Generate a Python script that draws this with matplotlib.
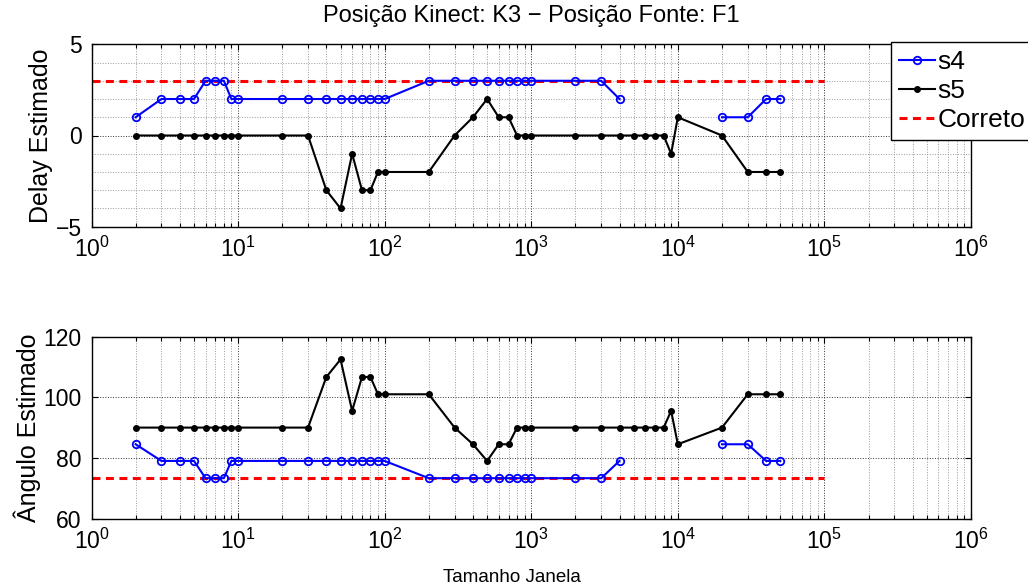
import numpy as np
import matplotlib
matplotlib.use("Agg")
import matplotlib.pyplot as plt
from matplotlib.ticker import MultipleLocator, LogLocator, NullFormatter, FixedLocator

plt.rcParams['font.family'] = ['Liberation Sans', 'DejaVu Sans']
plt.rcParams['mathtext.fontset'] = 'custom'
plt.rcParams['mathtext.rm'] = 'Liberation Sans'
plt.rcParams['mathtext.it'] = 'Liberation Sans'

nan = np.nan
window = [2, 3, 4, 5, 6, 7, 8, 9, 10, 20, 30, 40, 50, 60, 70, 80, 90, 100,
          200, 300, 400, 500, 600, 700, 800, 900, 1000, 2000, 3000, 4000,
          5000, 6000, 7000, 8000, 9000, 10000, 20000, 30000, 40000, 50000]

s4_delay = [1, 2, 2, 2, 3, 3, 3, 2, 2, 2, 2, 2, 2, 2, 2, 2, 2, 2,
            3, 3, 3, 3, 3, 3, 3, 3, 3, 3, 3, 2,
            nan, nan, nan, nan, nan, nan, 1, 1, 2, 2]
s5_delay = [0, 0, 0, 0, 0, 0, 0, 0, 0, 0, 0, -3, -4, -1, -3, -3, -2, -2,
            -2, 0, 1, 2, 1, 1, 0, 0, 0, 0, 0, 0,
            0, 0, 0, 0, -1, 1, 0, -2, -2, -2]

s4_angle = [84.5, 79.0, 79.0, 79.0, 73.3, 73.3, 73.3, 79.0, 79.0, 79.0, 79.0, 79.0,
            79.0, 79.0, 79.0, 79.0, 79.0, 79.0,
            73.3, 73.3, 73.3, 73.3, 73.3, 73.3, 73.3, 73.3, 73.3, 73.3, 73.3, 79.0,
            nan, nan, nan, nan, nan, nan, 84.5, 84.5, 79.0, 79.0]
s5_angle = [90, 90, 90, 90, 90, 90, 90, 90, 90, 90, 90, 106.7, 112.5, 95.5, 106.7, 106.7,
            101.0, 101.0,
            101.0, 90, 84.5, 79.0, 84.5, 84.5, 90, 90, 90, 90, 90, 90,
            90, 90, 90, 90, 95.5, 84.5, 90, 101.0, 101.0, 101.0]

correct_x = [1, 100000]
correct_delay = [3, 3]
correct_angle = [73.3, 73.3]

x_major = [1, 10, 100, 1000, 10000, 100000, 1000000]
title = "Posição Kinect: K3 − Posição Fonte: F1"
labels = ["s4", "s5", "Correto"]

W, H = 1028, 587
fig = plt.figure(figsize=(W / 100, H / 100), dpi=100)
left, right = 91.5 / W, 971 / W
ax1 = fig.add_axes([left, 1 - 226.7 / H, right - left, (226.7 - 44.3) / H])
ax2 = fig.add_axes([left, 1 - 518.5 / H, right - left, (518.5 - 336.7) / H])


def draw(ax, ys4, ys5, ycor):
    l1, = ax.plot(window, ys4, '-o', color='#0000ff', lw=1.5, ms=5.4,
                  mfc='none', mew=1.3, label=labels[0], zorder=4)
    l2, = ax.plot(window, ys5, '-o', color='black', lw=1.5, ms=4.0,
                  mfc='black', mec='black', label=labels[1], zorder=3)
    l3, = ax.plot(correct_x, ycor, '--', color='#ff0000', lw=2.2,
                  dashes=(2.6, 1.8), label=labels[2], zorder=2)
    ax.set_xscale('log')
    ax.set_xlim(1, 1e6)
    ax.xaxis.set_major_locator(FixedLocator(x_major))
    ax.xaxis.set_minor_locator(LogLocator(base=10, subs=np.arange(2, 10), numticks=20))
    ax.xaxis.set_minor_formatter(NullFormatter())
    ax.tick_params(which='both', direction='in', top=True, right=True,
                   labelsize=16.5, width=0.8)
    ax.tick_params(which='major', length=4.5, pad=7)
    ax.tick_params(axis='x', which='minor', length=3)
    ax.tick_params(axis='y', which='minor', length=0)
    ax.grid(True, which='major', ls=':', lw=0.7, color='0.2')
    ax.grid(True, which='minor', ls=':', lw=0.7, color='0.6')
    for s in ax.spines.values():
        s.set_linewidth(1.0)
    return l1, l2, l3


h = draw(ax1, s4_delay, s5_delay, correct_delay)
ax1.set_ylim(-5, 5)
ax1.set_yticks([-5, 0, 5])
ax1.yaxis.set_minor_locator(MultipleLocator(1))
ax1.set_ylabel("Delay Estimado", fontsize=18, labelpad=2)
ax1.set_title(title, fontsize=17, pad=16)

draw(ax2, s4_angle, s5_angle, correct_angle)
ax2.set_ylim(60, 120)
ax2.set_yticks([60, 80, 100, 120])
ax2.grid(False, which='minor', axis='y')
ax2.set_ylabel("Ângulo Estimado", fontsize=18, labelpad=2)
ax2.set_xlabel("Tamanho Janela", fontsize=13.5)
ax2.xaxis.set_label_coords((512 - 91.5) / (971 - 91.5), -0.28)

leg = fig.legend(h, labels, loc='upper left', bbox_to_anchor=(891 / W, 1 - 42 / H),
                 borderaxespad=0, fontsize=19, frameon=True, fancybox=False,
                 edgecolor='black', framealpha=1, handlelength=1.35,
                 handletextpad=0.1, labelspacing=0.2, borderpad=0.3)
leg.get_frame().set_linewidth(1.0)

fig.savefig("out.png", dpi=100)
